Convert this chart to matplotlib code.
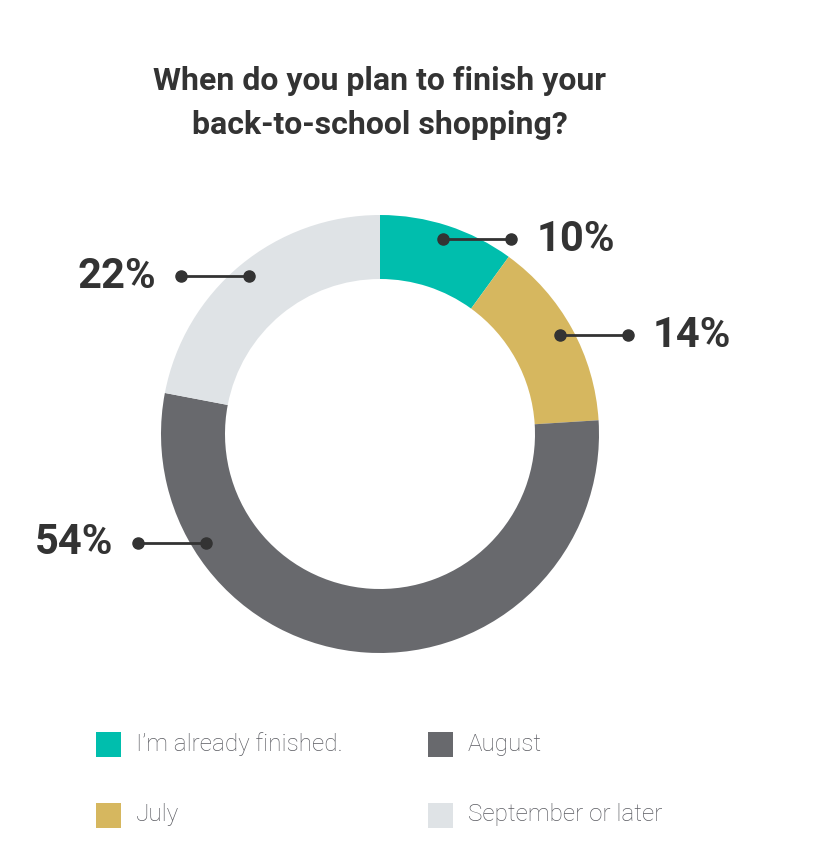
import numpy as np
import matplotlib as mpl
import matplotlib.pyplot as plt

mpl.use('Agg')

plt.rcParams['font.family'] = ['Roboto', 'DejaVu Sans']

# data
categorias = ["I\u2019m already finished.", "July", "August", "September or later"]
valores = [10, 14, 54, 22]
cores = ["#00BEAD", "#D6B75F", "#68696D", "#DFE3E6"]
titulo = "When do you plan to finish your\nback-to-school shopping?"

W, H = 834, 868
fig = plt.figure(figsize=(W / 100, H / 100), dpi=100)
ax = fig.add_axes([0, 0, 1, 1])

cx, cy = 380, H - 434
raio = 219
largura = 64

ax.pie(valores, colors=cores, startangle=90, counterclock=False,
       center=(cx, cy), radius=raio,
       wedgeprops=dict(width=largura, linewidth=0))

# pie resets the limits, so set them afterwards
ax.set_xlim(0, W)
ax.set_ylim(0, H)
ax.set_aspect('equal')
ax.axis('off')

# label anchor position inside each wedge (fraction along the wedge)
frac_pos = [0.5, 0.5, 0.78, 0.5]
raio_ponto = 205
comprimento = 68
texto_cor = "#333333"

acumulado = 0
total = sum(valores)
for v, f in zip(valores, frac_pos):
    pos = (acumulado + v * f) / total
    acumulado += v
    ang = np.deg2rad(90 - pos * 360)
    x0 = cx + raio_ponto * np.cos(ang)
    y0 = cy + raio_ponto * np.sin(ang)
    lado = 1 if np.cos(ang) > 0 else -1
    x1 = x0 + lado * comprimento
    ax.plot([x0, x1], [y0, y0], color=texto_cor, lw=2, zorder=3)
    ax.plot([x0, x1], [y0, y0], 'o', color=texto_cor, ms=8, zorder=4)
    ax.text(x1 + lado * 25, y0, f"{v}%", fontsize=30, fontweight='bold',
            color=texto_cor, ha='left' if lado > 0 else 'right', va='center')

ax.text(cx, H - 103, titulo, fontsize=23, fontweight='bold', color=texto_cor,
        ha='center', va='center', linespacing=1.6)

# legend
leg_x = [96, 428]
leg_y = [744, 815]
for i, (nome, cor) in enumerate(zip(categorias, cores)):
    col = 0 if i in (0, 1) else 1
    lin = 0 if i in (0, 2) else 1
    x = leg_x[col]
    y = H - leg_y[lin]
    ax.add_patch(plt.Rectangle((x, y - 12.5), 25, 25, color=cor, lw=0))
    ax.text(x + 40, y, nome, fontsize=17.5, fontweight='light', color="#5A5B61",
            ha='left', va='center')

plt.savefig("out.png", dpi=100)
